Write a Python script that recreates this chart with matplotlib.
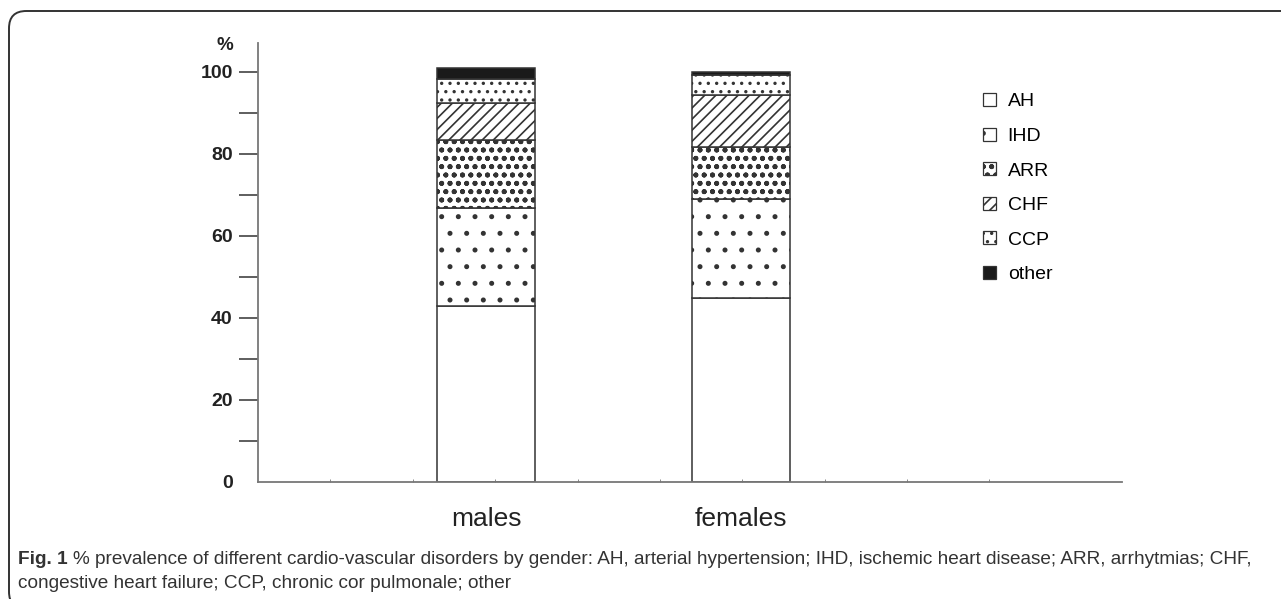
import matplotlib
matplotlib.use("Agg")
import matplotlib.pyplot as plt
from matplotlib.patches import Patch, FancyBboxPatch
import numpy as np

# data (% of patients)
groups = ["males", "females"]
disorders = ["AH", "IHD", "ARR", "CHF", "CCP", "other"]
males = [42.9, 23.8, 16.6, 9.1, 5.9, 2.7]
females = [44.8, 24.1, 12.8, 12.6, 4.9, 0.8]

hatches = ["", ".", "oo..", "///", "..", ""]
faces = ["white", "white", "white", "white", "white", "#1a1a1a"]

caption1 = ("% prevalence of different cardio-vascular disorders by gender: AH, arterial hypertension; "
            "IHD, ischemic heart disease; ARR, arrhytmias; CHF,")
caption2 = "congestive heart failure; CCP, chronic cor pulmonale; other"

plt.rcParams["font.family"] = ["Liberation Sans", "DejaVu Sans"]
plt.rcParams["hatch.linewidth"] = 1.2
plt.rcParams["hatch.color"] = "#111111"

W, H = 1281, 599
fig = plt.figure(figsize=(W / 100, H / 100), dpi=100)
ax = fig.add_axes([258 / W, (H - 482) / H, (1122 - 258) / W, (482 - 43) / H])

x = np.arange(len(groups))
bottom = np.zeros(len(groups))
for i, name in enumerate(disorders):
    vals = np.array([males[i], females[i]])
    ax.bar(x, vals, width=0.384, bottom=bottom, color=faces[i], hatch=hatches[i],
           edgecolor="#333333", linewidth=1.1)
    bottom += vals

ax.set_xlim(-0.894, 2.494)
ax.set_ylim(0, 107)

for s in ["top", "right"]:
    ax.spines[s].set_visible(False)
for s in ["left", "bottom"]:
    ax.spines[s].set_color("#777777")
    ax.spines[s].set_linewidth(1.3)

ax.set_yticks(np.arange(0, 101, 20))
ax.set_yticks(np.arange(10, 100, 20), minor=True)
ax.set_yticklabels([str(v) for v in range(0, 101, 20)], fontweight="bold", fontsize=14, color="#222222")
ax.tick_params(axis="y", which="both", length=13.7, width=1.1, color="#333333", pad=4.5)
ax.yaxis.get_major_ticks()[0].tick1line.set_visible(False)

ax.set_xticks(x)
ax.set_xticklabels(groups, fontsize=19, color="#222222")
ax.tick_params(axis="x", which="major", length=0, pad=18)
ax.set_xticks(np.arange(-0.61, 2.2, 0.323), minor=True)
ax.tick_params(axis="x", which="minor", length=2.5, direction="in", color="#777777")

fig.text(225 / W, 1 - 45 / H, "%", ha="center", va="center", fontsize=13.5, fontweight="bold", color="#222222")

handles = [Patch(facecolor=faces[i], hatch=hatches[i], edgecolor="#333333", linewidth=0.9)
           for i in range(len(disorders))]
ax.legend(handles, disorders, loc="upper left", bbox_to_anchor=(983 / W, 1 - 93 / H),
          bbox_transform=fig.transFigure, frameon=False, fontsize=14, borderpad=0,
          handlelength=0.67, handleheight=0.67, handletextpad=0.6, labelspacing=0.88,
          borderaxespad=0)

# rounded frame around figure + caption
fig.patches.append(FancyBboxPatch((9 / W, -10 / H), (W + 20) / W, (H - 11 + 10) / H,
                                  boxstyle="round,pad=0,rounding_size=0.0135",
                                  transform=fig.transFigure, fill=False,
                                  edgecolor="#333333", linewidth=1.4, mutation_aspect=W / H))
capsize = 12.5
t1 = fig.text(18 / W, 1 - 560 / H, "Fig. 1", fontsize=capsize, fontweight="bold",
              color="#333333", va="center")
t2 = fig.text(0, 1 - 560 / H, caption1, fontsize=capsize, color="#333333", va="center")
t3 = fig.text(18 / W, 1 - 583 / H, caption2, fontsize=capsize, color="#333333", va="center")
fig.canvas.draw()
r = fig.canvas.get_renderer()
w1 = t1.get_window_extent(r).width
w2 = t2.get_window_extent(r).width
scale = (1262 - 18) / (w1 + 5 + w2)
for t in (t1, t2, t3):
    t.set_fontsize(capsize * scale)
fig.canvas.draw()
t2.set_x((t1.get_window_extent(r).x1 + 5) / W)

fig.savefig("out.png", dpi=100)
